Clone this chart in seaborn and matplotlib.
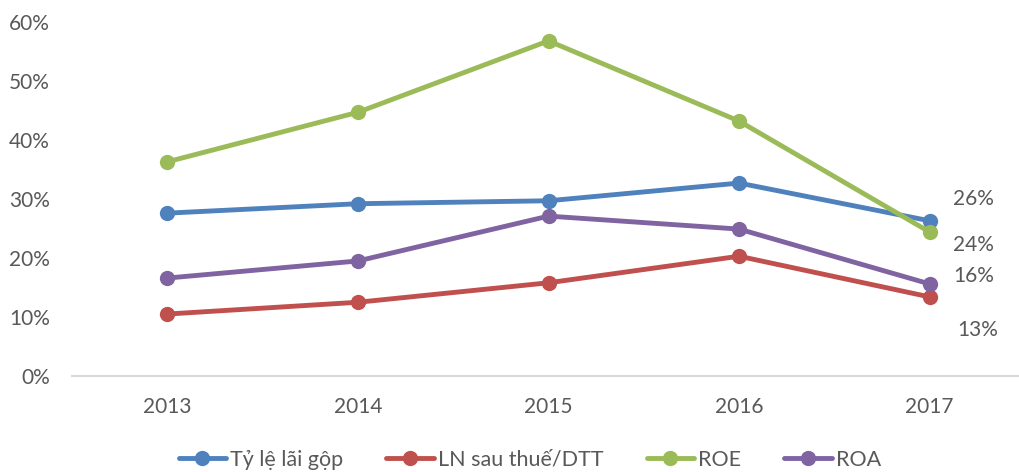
import matplotlib
matplotlib.use("Agg")
import matplotlib.pyplot as plt
import seaborn as sns
import pandas as pd
from matplotlib.ticker import FuncFormatter, MultipleLocator

years = ["2013", "2014", "2015", "2016", "2017"]
series_names = ["Tỷ lệ lãi gộp", "LN sau thuế/DTT", "ROE", "ROA"]
gross_margin = [27.6, 29.2, 29.7, 32.7, 26.3]
net_margin = [10.5, 12.5, 15.8, 20.3, 13.4]
roe = [36.3, 44.7, 56.8, 43.2, 24.4]
roa = [16.6, 19.5, 27.1, 24.9, 15.6]
values = [gross_margin, net_margin, roe, roa]
colors = ["#4F81BD", "#C0504D", "#9BBB59", "#8064A2"]
label_offsets = [(44, 22), (48, -33), (44, -13), (44, 8)]

sns.set_style("white")
plt.rcParams["font.family"] = ["Lato", "DejaVu Sans"]
text_color = "#595959"

fig = plt.figure(figsize=(10.19, 4.72), dpi=100)
ax = fig.add_axes([72 / 1019, 1 - 376 / 472, (1025 - 72) / 1019, (376 - 22) / 472])

idx = list(range(len(years)))
for name, vals, col in zip(series_names, values, colors):
    df = pd.DataFrame({"x": idx, "y": vals})
    sns.lineplot(data=df, x="x", y="y", ax=ax, color=col, linewidth=3.5,
                 marker="o", markersize=11, markeredgewidth=0, label=name)

for vals, off in zip(values, label_offsets):
    ax.annotate(f"{vals[-1]:.0f}%", xy=(idx[-1], vals[-1]), xytext=off,
                textcoords="offset pixels", ha="center", va="center",
                fontsize=15, color=text_color)

ax.set_xlim(-0.5, 4.5)
ax.set_ylim(0, 60)
ax.yaxis.set_major_locator(MultipleLocator(10))
ax.yaxis.set_major_formatter(FuncFormatter(lambda v, p: f"{v:.0f}%"))
ax.set_xticks(idx)
ax.set_xticklabels(years)
ax.set_xlabel("")
ax.set_ylabel("")
for s in ["top", "right", "left"]:
    ax.spines[s].set_visible(False)
ax.spines["bottom"].set_color("#D9D9D9")
ax.spines["bottom"].set_linewidth(1.5)
ax.tick_params(axis="both", length=0, labelsize=15, labelcolor=text_color)
ax.tick_params(axis="y", pad=16)
ax.tick_params(axis="x", pad=15)
ax.grid(False)

ax.get_legend().remove()
handles, labels = ax.get_legend_handles_labels()
fig.legend(handles, labels, loc="center", bbox_to_anchor=(0.52, 1 - 460 / 472),
           ncol=4, frameon=False, fontsize=15.5, labelcolor=text_color,
           handlelength=2.2, handletextpad=0.2, columnspacing=2.0)

fig.savefig("out.png", dpi=100)
